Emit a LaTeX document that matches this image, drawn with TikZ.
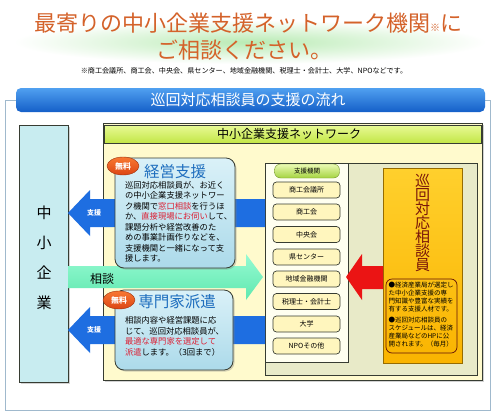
\documentclass[tikz,border=0pt]{standalone}
\usepackage{fontspec}
\setmainfont{Noto Sans CJK JP}
\usetikzlibrary{shadows,shapes.geometric}
\definecolor{titleor}{RGB}{212,98,42}
\definecolor{glow}{RGB}{185,235,180}
\definecolor{framec}{RGB}{160,185,205}
\definecolor{hdrtop}{RGB}{80,160,240}
\definecolor{hdrbot}{RGB}{20,95,200}
\definecolor{smefill}{RGB}{200,236,240}
\definecolor{netfill}{RGB}{255,250,205}
\definecolor{nbtop}{RGB}{232,250,150}
\definecolor{nbbot}{RGB}{195,230,70}
\definecolor{panelc}{RGB}{232,234,200}
\definecolor{colc}{RGB}{255,255,240}
\definecolor{itemc}{RGB}{255,246,190}
\definecolor{pilltop}{RGB}{235,250,180}
\definecolor{pillbot}{RGB}{165,212,65}
\definecolor{ortop}{RGB}{255,208,45}
\definecolor{orbot}{RGB}{250,180,0}
\definecolor{ortx}{RGB}{120,20,10}
\definecolor{bluear}{RGB}{30,110,225}
\definecolor{grtop}{RGB}{150,250,210}
\definecolor{grbot}{RGB}{95,232,175}
\definecolor{redar}{RGB}{235,20,20}
\definecolor{svctop}{RGB}{218,241,248}
\definecolor{svcbot}{RGB}{172,218,234}
\definecolor{svctx}{RGB}{30,110,190}
\definecolor{badgetop}{RGB}{248,120,50}
\definecolor{badgebot}{RGB}{220,70,20}
\definecolor{redtx}{RGB}{220,30,50}
\definecolor{darkln}{RGB}{55,60,50}
\begin{document}
\begin{tikzpicture}[x=1pt,y=-1pt,
  every node/.style={inner sep=0pt, outer sep=0pt},
  svc/.style={draw=darkln, line width=0.8pt, rounded corners=9pt,
    top color=svctop, bottom color=svcbot,
    drop shadow={shadow xshift=1.5pt, shadow yshift=-1.5pt, opacity=0.35}},
  badge/.style={ellipse, draw=badgebot!70!black, line width=0.4pt,
    top color=badgetop, bottom color=badgebot, minimum width=32pt, minimum height=18pt,
    text=white, font=\bfseries\fontsize{8}{8}\selectfont},
  svctitle/.style={text=svctx, font=\fontsize{15.5}{16}\selectfont},
  svcbody/.style={anchor=north west, align=left, font=\fontsize{8.3}{10.5}\selectfont},
  itembox/.style={draw=darkln, line width=0.7pt, rounded corners=3.5pt, fill=itemc,
    minimum width=67pt, minimum height=16pt, font=\fontsize{7}{7}\selectfont},
  supportlbl/.style={text=white, font=\bfseries\fontsize{7}{7}\selectfont}]
\useasboundingbox (0,0) rectangle (500,418);
\fill[white] (0,0) rectangle (500,418);
% title
\shade[inner color=glow, outer color=white] (250,42) ellipse [x radius=236, y radius=22];
\node[text=titleor, font=\fontsize{22}{24}\selectfont] (t1) at (248,23)
  {最寄りの中小企業支援ネットワーク機関{\fontsize{10}{10}\selectfont ※}に};
\node[text=titleor, font=\fontsize{22}{24}\selectfont] (t2) at (244,50) {ご相談ください。};
\node[font=\fontsize{7.1}{8}\selectfont] (fn) at (244,71)
  {※商工会議所、商工会、中央会、県センター、地域金融機関、税理士・会計士、大学、NPOなどです。};
% outer frame
\draw[framec, line width=0.8pt] (5,100) rectangle (490,410);
% header bar
\shade[top color=hdrtop, bottom color=hdrbot, rounded corners=5pt]
  (16,112) -- (16,88) -- (485,88) -- (485,112) -- cycle;
\node[text=white, font=\fontsize{15}{16}\selectfont] (hdr) at (248,100) {巡回対応相談員の支援の流れ};
% left box
\node[draw=darkln, line width=0.8pt, fill=smefill, minimum width=49pt, minimum height=257pt,
  drop shadow={shadow xshift=1.5pt, shadow yshift=-1.5pt, opacity=0.35}] (sme) at (43.5,253.5) {};
\node[align=center, font=\fontsize{15}{30}\selectfont] (smetx) at (44,258) {中\\小\\企\\業};
% network box
\node[draw=darkln, line width=0.8pt, fill=netfill, minimum width=379pt, minimum height=257pt,
  drop shadow={shadow xshift=1.5pt, shadow yshift=-1.5pt, opacity=0.35}] (net) at (292.5,251.5) {};
\node[draw=darkln, line width=0.7pt, top color=nbtop, bottom color=nbbot,
  minimum width=377pt, minimum height=18pt] (netbar) at (292.5,134) {};
\node[font=\fontsize{12}{12}\selectfont] (nettx) at (289,134) {中小企業支援ネットワーク};
% inner panel and column
\node[draw=darkln, line width=0.7pt, fill=panelc, minimum width=212pt, minimum height=212pt,
  anchor=north west] (panel) at (265,163) {};
\node[draw=darkln, line width=0.7pt, fill=colc, minimum width=83pt, minimum height=199pt,
  anchor=north west] (col) at (265,163) {};
\node[draw=pillbot!70!black, line width=0.4pt, rounded corners=6pt, top color=pilltop, bottom color=pillbot,
  minimum width=65pt, minimum height=14pt, font=\fontsize{6.5}{7}\selectfont] (pill) at (307,171) {支援機関};
\node[itembox] (i1) at (306.5,190) {商工会議所};
\node[itembox] (i2) at (306.5,212) {商工会};
\node[itembox] (i3) at (306.5,234.5) {中央会};
\node[itembox] (i4) at (306.5,257) {県センター};
\node[itembox] (i5) at (306.5,279) {地域金融機関};
\node[itembox] (i6) at (306.5,301.5) {税理士・会計士};
\node[itembox] (i7) at (306.5,324) {大学};
\node[itembox] (i8) at (306.5,346) {NPOその他};
% orange box
\node[draw=orbot!60!black, line width=1pt, top color=ortop, bottom color=orbot,
  minimum width=79pt, minimum height=195pt, anchor=north west,
  drop shadow={shadow xshift=1.2pt, shadow yshift=-1.2pt, opacity=0.35}] (orb) at (383,168) {};
\node[align=center, text=ortx, font=\fontsize{15}{14}\selectfont] (ortitle) at (422.5,223)
  {巡\\回\\対\\応\\相\\談\\員};
\node[draw=ortx!80!black, line width=0.7pt, rounded corners=6pt, minimum width=71pt,
  minimum height=74pt, anchor=north west] (ornote) at (386,279) {};
\node[anchor=north west, align=left, font=\fontsize{6.5}{8}\selectfont] (ornotetx) at (388.5,282)
  {●経済産業局が選定し\\た中小企業支援の専\\門知識や豊富な実績を\\有する支援人材です。\\[3pt]●巡回対応相談員の\\スケジュールは、経済\\産業局などのHPに公\\開されます。（毎月）};
% red arrow (orange box -> financial institution)
\fill[redar] (346,277) -- (362,254) -- (362,266) -- (orb.west |- 0,266) -- (orb.west |- 0,289)
  -- (362,289) -- (362,300) -- cycle;
% blue arrows (support -> SME)
\fill[bluear] (sme.east |- 0,213) -- (90,190) -- (90,199) -- (col.west |- 0,199) -- (col.west |- 0,227)
  -- (90,227) -- (90,236) -- cycle;
\fill[bluear] (sme.east |- 0,330) -- (90,307) -- (90,316) -- (col.west |- 0,316) -- (col.west |- 0,344)
  -- (90,344) -- (90,353) -- cycle;
\node[supportlbl] (s1) at (94,213) {支援};
\node[supportlbl] (s2) at (94,330) {支援};
% green arrow (SME -> network)
\shade[top color=grtop, bottom color=grbot]
  (sme.east |- 0,266) -- (246,266) -- (246,254) -- (263,277) -- (246,300) -- (246,288)
  -- (sme.east |- 0,288) -- cycle;
\node[font=\fontsize{12}{12}\selectfont] (sodan) at (102,279) {相談};
% service boxes
\node[svc, minimum width=120pt, minimum height=110pt, anchor=north west] (kei) at (115,158) {};
\node[svctitle] (keit) at (175,172) {経営支援};
\node[badge] (b1) at (123,166) {無料};
\node[svcbody] (keib) at (125,181)
  {巡回対応相談員が、お近く\\の中小企業支援ネットワー\\ク機関で\textcolor{redtx}{窓口相談}を行うほ\\か、\textcolor{redtx}{直接現場にお伺い}して、\\課題分析や経営改善のた\\めの事業計画作りなどを、\\支援機関と一緒になって支\\援します。};
\node[svc, minimum width=118pt, minimum height=80pt, anchor=north west] (sen) at (115,290) {};
\node[svctitle] (sent) at (177,302) {専門家派遣};
\node[badge] (b2) at (119,300) {無料};
\node[svcbody] (senb) at (125,317)
  {相談内容や経営課題に応\\じて、巡回対応相談員が、\\\textcolor{redtx}{最適な専門家を選定して}\\\textcolor{redtx}{派遣}します。（3回まで）};
\end{tikzpicture}
\end{document}
